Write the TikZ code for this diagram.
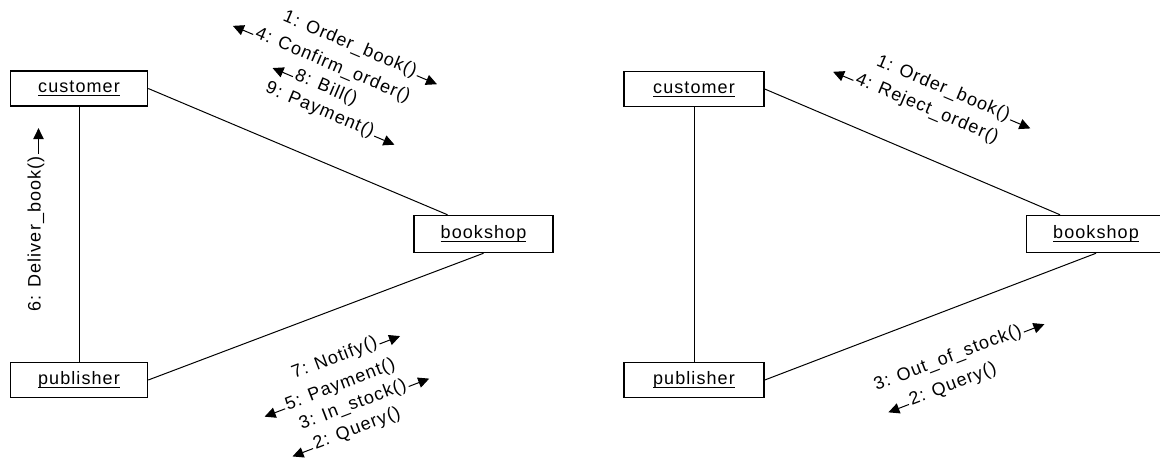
\documentclass[tikz,border=0pt]{standalone}
\usepackage{fontspec}
\newfontfamily\diafont{Liberation Sans}[LetterSpace=6]
\usetikzlibrary{arrows.meta}
\newcommand\ulbox[1]{\raisebox{-2pt}{\setbox0=\hbox{#1}\rlap{\rule[-3.5pt]{\wd0}{0.8pt}}\box0}}
\tikzset{
  obj/.style={draw, line width=1.5pt, minimum width=137pt, minimum height=35pt, inner sep=0pt,
    font=\diafont\fontsize{18}{20}\selectfont},
  msg/.style={inner sep=0pt, font=\diafont\fontsize{18}{20}\selectfont},
  link/.style={line width=1pt},
  marrow/.style={line width=1pt, -{Triangle[length=11pt,width=10.5pt]}}
}
\begin{document}
\begin{tikzpicture}[x=1pt,y=1pt]
\useasboundingbox (0,0) rectangle (1160,-459);
\clip (0,0) rectangle (1160,-459);
% ---------- left diagram ----------
\node[obj] (c1) at (79,-88.5) {\ulbox{customer}};
\node[obj] (p1) at (79,-380) {\ulbox{publisher}};
\node[obj, minimum width=139pt, minimum height=37pt] (b1) at (483.5,-234) {\ulbox{bookshop}};
\draw[link] (c1.east) -- ([xshift=-36pt]b1.north);
\draw[link] (p1.east) -- (b1.south);
\draw[link] (c1.south) -- (p1.north);

\node[msg, rotate=-23] (m1) at (349.8,-44.5) {1: Order\_book()};
\draw[marrow] (m1.mid east) ++(-23:2) -- ++(-23:22);
\node[msg, rotate=-23] (m4) at (332.7,-65.5) {4: Confirm\_order()};
\draw[marrow] (m4.mid west) ++(157:2) -- ++(157:22);
\node[msg, rotate=-23] (m8) at (326,-88) {8: Bill()};
\draw[marrow] (m8.mid west) ++(157:2) -- ++(157:22);
\node[msg, rotate=-23] (m9) at (319.8,-110.3) {9: Payment()};
\draw[marrow] (m9.mid east) ++(-23:2) -- ++(-23:22);

\node[msg, rotate=21] (m7) at (334.7,-358.5) {7: Notify()};
\draw[marrow] (m7.mid east) ++(21:2) -- ++(21:22);
\node[msg, rotate=21] (m5) at (340.4,-384.9) {5: Payment()};
\draw[marrow] (m5.mid west) ++(201:2) -- ++(201:22);
\node[msg, rotate=21] (m3) at (353,-405.2) {3: In\_stock()};
\draw[marrow] (m3.mid east) ++(21:2) -- ++(21:22);
\node[msg, rotate=21] (m2) at (357,-429) {2: Query()};
\draw[marrow] (m2.mid west) ++(201:2) -- ++(201:22);

\node[msg, rotate=90] (m6) at (36,-234) {6: Deliver\_book()};
\draw[marrow] (m6.mid east) ++(90:2) -- ++(90:26);

% ---------- right diagram ----------
\node[obj, minimum width=140pt] (c2) at (694,-89) {\ulbox{customer}};
\node[obj, minimum width=140pt] (p2) at (694,-380) {\ulbox{publisher}};
\node[obj, minimum width=139pt, minimum height=37pt] (b2) at (1096,-234) {\ulbox{bookshop}};
\draw[link] (c2.east) -- ([xshift=-36pt]b2.north);
\draw[link] (p2.east) -- (b2.south);
\draw[link] (c2.south) -- (p2.north);

\node[msg, rotate=-23] (n1) at (943.2,-88.7) {1: Order\_book()};
\draw[marrow] (n1.mid east) ++(-23:2) -- ++(-23:22);
\node[msg, rotate=-23] (n4) at (926.9,-108.9) {4: Reject\_order()};
\draw[marrow] (n4.mid west) ++(157:2) -- ++(157:22);

\node[msg, rotate=21] (n3) at (948,-358.5) {3: Out\_of\_stock()};
\draw[marrow] (n3.mid east) ++(21:2) -- ++(21:22);
\node[msg, rotate=21] (n2) at (952.9,-384.9) {2: Query()};
\draw[marrow] (n2.mid west) ++(201:2) -- ++(201:22);
\end{tikzpicture}
\end{document}
